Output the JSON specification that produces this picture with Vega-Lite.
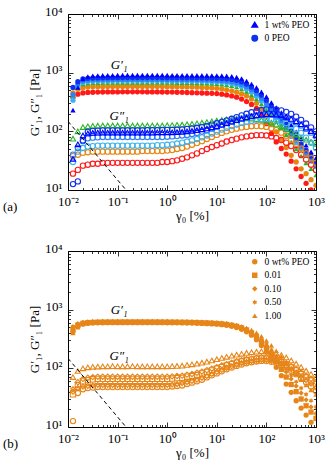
{
"$schema":"https://vega.github.io/schema/vega-lite/v6.json",
"padding":{"left":2,"top":4,"right":0,"bottom":0},
"config":{"font":"Liberation Serif","view":{"stroke":"black","strokeWidth":1},
"axis":{"domain":false,"grid":false,"labelFont":"Liberation Serif","labelFontSize":13,"labelColor":"black","titleFont":"Liberation Serif","titleFontSize":13,"titleFontWeight":"normal","titleColor":"black","tickColor":"black","tickWidth":0.8},
"legend":{"labelFont":"Liberation Serif","labelFontSize":9.5,"labelColor":"black","symbolSize":30,"rowPadding":1.5,"padding":2,"offset":4,"labelOffset":5}},
"datasets":{
"dash":[{"x":0.01,"y":148},{"x":0.148,"y":10}],
"la":[{"x":0.107,"y":1350,"t":"G′₁"},{"x":0.107,"y":182,"t":"G″₁"}],
"lb":[{"x":0.107,"y":980,"t":"G′₁"},{"x":0.107,"y":162,"t":"G″₁"}],
"a1":[
{"s":"r","x":0.0126,"y":380},{"s":"r","x":0.0158,"y":430},{"s":"r","x":0.02,"y":452},{"s":"r","x":0.0251,"y":460},{"s":"r","x":0.0316,"y":464},{"s":"r","x":0.0398,"y":466},{"s":"r","x":0.0501,"y":468},{"s":"r","x":0.0631,"y":469},{"s":"r","x":0.0794,"y":470},{"s":"r","x":0.1,"y":470},
{"s":"r","x":0.126,"y":471},{"s":"r","x":0.158,"y":471},{"s":"r","x":0.2,"y":471},{"s":"r","x":0.251,"y":471},{"s":"r","x":0.316,"y":471},{"s":"r","x":0.398,"y":470},{"s":"r","x":0.501,"y":470},{"s":"r","x":0.631,"y":469},{"s":"r","x":0.794,"y":468},{"s":"r","x":1,"y":467},
{"s":"r","x":1.26,"y":466},{"s":"r","x":1.58,"y":464},{"s":"r","x":2,"y":462},{"s":"r","x":2.51,"y":459},{"s":"r","x":3.16,"y":456},{"s":"r","x":3.98,"y":453},{"s":"r","x":5.01,"y":450},{"s":"r","x":6.31,"y":447},{"s":"r","x":7.94,"y":444},{"s":"r","x":10,"y":440},
{"s":"r","x":12.6,"y":430},{"s":"r","x":15.8,"y":418},{"s":"r","x":20,"y":402},{"s":"r","x":25.1,"y":382},{"s":"r","x":31.6,"y":355},{"s":"r","x":39.8,"y":322},{"s":"r","x":50.1,"y":288},{"s":"r","x":63.1,"y":245},{"s":"r","x":79.4,"y":190},{"s":"r","x":100,"y":135},
{"s":"r","x":126,"y":92},{"s":"r","x":158,"y":66},{"s":"r","x":200,"y":51},{"s":"r","x":251,"y":41},{"s":"r","x":316,"y":31},{"s":"r","x":398,"y":23},{"s":"r","x":501,"y":17},{"s":"r","x":631,"y":13},{"s":"r","x":794,"y":10},{"s":"r","x":1000,"y":8},
{"s":"o","x":0.0126,"y":450},{"s":"o","x":0.0158,"y":520},{"s":"o","x":0.02,"y":555},{"s":"o","x":0.0251,"y":568},{"s":"o","x":0.0316,"y":574},{"s":"o","x":0.0398,"y":577},{"s":"o","x":0.0501,"y":578},{"s":"o","x":0.0631,"y":580},{"s":"o","x":0.0794,"y":580},{"s":"o","x":0.1,"y":581},
{"s":"o","x":0.126,"y":582},{"s":"o","x":0.158,"y":582},{"s":"o","x":0.2,"y":582},{"s":"o","x":0.251,"y":582},{"s":"o","x":0.316,"y":582},{"s":"o","x":0.398,"y":581},{"s":"o","x":0.501,"y":580},{"s":"o","x":0.631,"y":580},{"s":"o","x":0.794,"y":579},{"s":"o","x":1,"y":578},
{"s":"o","x":1.26,"y":577},{"s":"o","x":1.58,"y":575},{"s":"o","x":2,"y":573},{"s":"o","x":2.51,"y":571},{"s":"o","x":3.16,"y":568},{"s":"o","x":3.98,"y":565},{"s":"o","x":5.01,"y":561},{"s":"o","x":6.31,"y":556},{"s":"o","x":7.94,"y":549},{"s":"o","x":10,"y":540},
{"s":"o","x":12.6,"y":528},{"s":"o","x":15.8,"y":511},{"s":"o","x":20,"y":490},{"s":"o","x":25.1,"y":465},{"s":"o","x":31.6,"y":435},{"s":"o","x":39.8,"y":400},{"s":"o","x":50.1,"y":355},{"s":"o","x":63.1,"y":300},{"s":"o","x":79.4,"y":240},{"s":"o","x":100,"y":180},
{"s":"o","x":126,"y":130},{"s":"o","x":158,"y":98},{"s":"o","x":200,"y":72},{"s":"o","x":251,"y":53},{"s":"o","x":316,"y":39},{"s":"o","x":398,"y":30},{"s":"o","x":501,"y":23},{"s":"o","x":631,"y":19},{"s":"o","x":794,"y":15},{"s":"o","x":1000,"y":12},
{"s":"g","x":0.0126,"y":400},{"s":"g","x":0.0158,"y":560},{"s":"g","x":0.02,"y":640},{"s":"g","x":0.0251,"y":662},{"s":"g","x":0.0316,"y":672},{"s":"g","x":0.0398,"y":676},{"s":"g","x":0.0501,"y":678},{"s":"g","x":0.0631,"y":680},{"s":"g","x":0.0794,"y":680},{"s":"g","x":0.1,"y":682},
{"s":"g","x":0.126,"y":682},{"s":"g","x":0.158,"y":683},{"s":"g","x":0.2,"y":683},{"s":"g","x":0.251,"y":683},{"s":"g","x":0.316,"y":683},{"s":"g","x":0.398,"y":682},{"s":"g","x":0.501,"y":682},{"s":"g","x":0.631,"y":681},{"s":"g","x":0.794,"y":680},{"s":"g","x":1,"y":679},
{"s":"g","x":1.26,"y":678},{"s":"g","x":1.58,"y":677},{"s":"g","x":2,"y":675},{"s":"g","x":2.51,"y":673},{"s":"g","x":3.16,"y":671},{"s":"g","x":3.98,"y":668},{"s":"g","x":5.01,"y":665},{"s":"g","x":6.31,"y":661},{"s":"g","x":7.94,"y":655},{"s":"g","x":10,"y":647},
{"s":"g","x":12.6,"y":636},{"s":"g","x":15.8,"y":620},{"s":"g","x":20,"y":598},{"s":"g","x":25.1,"y":568},{"s":"g","x":31.6,"y":528},{"s":"g","x":39.8,"y":478},{"s":"g","x":50.1,"y":418},{"s":"g","x":63.1,"y":355},{"s":"g","x":79.4,"y":292},{"s":"g","x":100,"y":236},
{"s":"g","x":126,"y":188},{"s":"g","x":158,"y":148},{"s":"g","x":200,"y":115},{"s":"g","x":251,"y":88},{"s":"g","x":316,"y":66},{"s":"g","x":398,"y":50},{"s":"g","x":501,"y":38},{"s":"g","x":631,"y":29},{"s":"g","x":794,"y":23},{"s":"g","x":1000,"y":18},
{"s":"c","x":0.0126,"y":340},{"s":"c","x":0.0158,"y":600},{"s":"c","x":0.02,"y":680},{"s":"c","x":0.0251,"y":705},{"s":"c","x":0.0316,"y":715},{"s":"c","x":0.0398,"y":720},{"s":"c","x":0.0501,"y":722},{"s":"c","x":0.0631,"y":724},{"s":"c","x":0.0794,"y":725},{"s":"c","x":0.1,"y":726},
{"s":"c","x":0.126,"y":727},{"s":"c","x":0.158,"y":728},{"s":"c","x":0.2,"y":728},{"s":"c","x":0.251,"y":728},{"s":"c","x":0.316,"y":728},{"s":"c","x":0.398,"y":727},{"s":"c","x":0.501,"y":726},{"s":"c","x":0.631,"y":726},{"s":"c","x":0.794,"y":725},{"s":"c","x":1,"y":724},
{"s":"c","x":1.26,"y":723},{"s":"c","x":1.58,"y":722},{"s":"c","x":2,"y":720},{"s":"c","x":2.51,"y":718},{"s":"c","x":3.16,"y":716},{"s":"c","x":3.98,"y":714},{"s":"c","x":5.01,"y":711},{"s":"c","x":6.31,"y":707},{"s":"c","x":7.94,"y":702},{"s":"c","x":10,"y":695},
{"s":"c","x":12.6,"y":685},{"s":"c","x":15.8,"y":670},{"s":"c","x":20,"y":650},{"s":"c","x":25.1,"y":620},{"s":"c","x":31.6,"y":580},{"s":"c","x":39.8,"y":528},{"s":"c","x":50.1,"y":465},{"s":"c","x":63.1,"y":398},{"s":"c","x":79.4,"y":330},{"s":"c","x":100,"y":268},
{"s":"c","x":126,"y":214},{"s":"c","x":158,"y":170},{"s":"c","x":200,"y":134},{"s":"c","x":251,"y":105},{"s":"c","x":316,"y":82},{"s":"c","x":398,"y":64},{"s":"c","x":501,"y":50},{"s":"c","x":631,"y":39},{"s":"c","x":794,"y":31},{"s":"c","x":1000,"y":25},
{"s":"k","x":0.0126,"y":420},{"s":"k","x":0.0158,"y":640},{"s":"k","x":0.02,"y":720},{"s":"k","x":0.0251,"y":745},{"s":"k","x":0.0316,"y":755},{"s":"k","x":0.0398,"y":760},{"s":"k","x":0.0501,"y":762},{"s":"k","x":0.0631,"y":764},{"s":"k","x":0.0794,"y":765},{"s":"k","x":0.1,"y":766},
{"s":"k","x":0.126,"y":767},{"s":"k","x":0.158,"y":768},{"s":"k","x":0.2,"y":768},{"s":"k","x":0.251,"y":768},{"s":"k","x":0.316,"y":768},{"s":"k","x":0.398,"y":768},{"s":"k","x":0.501,"y":767},{"s":"k","x":0.631,"y":766},{"s":"k","x":0.794,"y":765},{"s":"k","x":1,"y":764},
{"s":"k","x":1.26,"y":763},{"s":"k","x":1.58,"y":762},{"s":"k","x":2,"y":760},{"s":"k","x":2.51,"y":758},{"s":"k","x":3.16,"y":756},{"s":"k","x":3.98,"y":754},{"s":"k","x":5.01,"y":752},{"s":"k","x":6.31,"y":748},{"s":"k","x":7.94,"y":744},{"s":"k","x":10,"y":738},
{"s":"k","x":12.6,"y":730},{"s":"k","x":15.8,"y":718},{"s":"k","x":20,"y":700},{"s":"k","x":25.1,"y":672},{"s":"k","x":31.6,"y":632},{"s":"k","x":39.8,"y":578},{"s":"k","x":50.1,"y":512},{"s":"k","x":63.1,"y":440},{"s":"k","x":79.4,"y":368},{"s":"k","x":100,"y":300},
{"s":"k","x":126,"y":240},{"s":"k","x":158,"y":190},{"s":"k","x":200,"y":150},{"s":"k","x":251,"y":117},{"s":"k","x":316,"y":91},{"s":"k","x":398,"y":71},{"s":"k","x":501,"y":55},{"s":"k","x":631,"y":43},{"s":"k","x":794,"y":34},{"s":"k","x":1000,"y":27},
{"s":"B","x":0.0126,"y":560},{"s":"B","x":0.0158,"y":700},{"s":"B","x":0.02,"y":780},{"s":"B","x":0.0251,"y":800},{"s":"B","x":0.0316,"y":810},{"s":"B","x":0.0398,"y":815},{"s":"B","x":0.0501,"y":818},{"s":"B","x":0.0631,"y":820},{"s":"B","x":0.0794,"y":822},{"s":"B","x":0.1,"y":822},
{"s":"B","x":0.126,"y":824},{"s":"B","x":0.158,"y":824},{"s":"B","x":0.2,"y":824},{"s":"B","x":0.251,"y":825},{"s":"B","x":0.316,"y":825},{"s":"B","x":0.398,"y":825},{"s":"B","x":0.501,"y":824},{"s":"B","x":0.631,"y":824},{"s":"B","x":0.794,"y":823},{"s":"B","x":1,"y":822},
{"s":"B","x":1.26,"y":821},{"s":"B","x":1.58,"y":820},{"s":"B","x":2,"y":818},{"s":"B","x":2.51,"y":817},{"s":"B","x":3.16,"y":815},{"s":"B","x":3.98,"y":814},{"s":"B","x":5.01,"y":812},{"s":"B","x":6.31,"y":810},{"s":"B","x":7.94,"y":807},{"s":"B","x":10,"y":803},
{"s":"B","x":12.6,"y":796},{"s":"B","x":15.8,"y":785},{"s":"B","x":20,"y":768},{"s":"B","x":25.1,"y":740},{"s":"B","x":31.6,"y":700},{"s":"B","x":39.8,"y":640},{"s":"B","x":50.1,"y":570},{"s":"B","x":63.1,"y":495},{"s":"B","x":79.4,"y":415},{"s":"B","x":100,"y":340},
{"s":"B","x":126,"y":272},{"s":"B","x":158,"y":215},{"s":"B","x":200,"y":170},{"s":"B","x":251,"y":132},{"s":"B","x":316,"y":102},{"s":"B","x":398,"y":79},{"s":"B","x":501,"y":61},{"s":"B","x":631,"y":48},{"s":"B","x":794,"y":38},{"s":"B","x":1000,"y":30},
{"s":"b","x":0.0126,"y":230},{"s":"b","x":0.0158,"y":560},{"s":"b","x":0.02,"y":790},{"s":"b","x":0.0251,"y":860},{"s":"b","x":0.0316,"y":885},{"s":"b","x":0.0398,"y":895},{"s":"b","x":0.0501,"y":900},{"s":"b","x":0.0631,"y":905},{"s":"b","x":0.0794,"y":905},{"s":"b","x":0.1,"y":908},
{"s":"b","x":0.126,"y":910},{"s":"b","x":0.158,"y":910},{"s":"b","x":0.2,"y":910},{"s":"b","x":0.251,"y":912},{"s":"b","x":0.316,"y":912},{"s":"b","x":0.398,"y":912},{"s":"b","x":0.501,"y":910},{"s":"b","x":0.631,"y":910},{"s":"b","x":0.794,"y":910},{"s":"b","x":1,"y":908},
{"s":"b","x":1.26,"y":906},{"s":"b","x":1.58,"y":905},{"s":"b","x":2,"y":903},{"s":"b","x":2.51,"y":902},{"s":"b","x":3.16,"y":900},{"s":"b","x":3.98,"y":900},{"s":"b","x":5.01,"y":898},{"s":"b","x":6.31,"y":898},{"s":"b","x":7.94,"y":896},{"s":"b","x":10,"y":895},
{"s":"b","x":12.6,"y":890},{"s":"b","x":15.8,"y":882},{"s":"b","x":20,"y":868},{"s":"b","x":25.1,"y":840},{"s":"b","x":31.6,"y":795},{"s":"b","x":39.8,"y":720},{"s":"b","x":50.1,"y":640},{"s":"b","x":63.1,"y":560},{"s":"b","x":79.4,"y":470},{"s":"b","x":100,"y":390},
{"s":"b","x":126,"y":310},{"s":"b","x":158,"y":255},{"s":"b","x":200,"y":210},{"s":"b","x":251,"y":165},{"s":"b","x":316,"y":128},{"s":"b","x":398,"y":98},{"s":"b","x":501,"y":75},{"s":"b","x":631,"y":58},{"s":"b","x":794,"y":45},{"s":"b","x":1000,"y":35}
],
"a2":[
{"s":"r","x":0.0126,"y":19},{"s":"r","x":0.0158,"y":22},{"s":"r","x":0.02,"y":26},{"s":"r","x":0.0251,"y":27},{"s":"r","x":0.0316,"y":28},{"s":"r","x":0.0398,"y":28},{"s":"r","x":0.0501,"y":29},{"s":"r","x":0.0631,"y":29},{"s":"r","x":0.0794,"y":29},{"s":"r","x":0.1,"y":29},
{"s":"r","x":0.126,"y":29},{"s":"r","x":0.158,"y":29},{"s":"r","x":0.2,"y":29},{"s":"r","x":0.251,"y":29},{"s":"r","x":0.316,"y":29},{"s":"r","x":0.398,"y":29},{"s":"r","x":0.501,"y":29},{"s":"r","x":0.631,"y":29},{"s":"r","x":0.794,"y":30},{"s":"r","x":1,"y":30},
{"s":"r","x":1.26,"y":31},{"s":"r","x":1.58,"y":32},{"s":"r","x":2,"y":34},{"s":"r","x":2.51,"y":36},{"s":"r","x":3.16,"y":39},{"s":"r","x":3.98,"y":42},{"s":"r","x":5.01,"y":46},{"s":"r","x":6.31,"y":50},{"s":"r","x":7.94,"y":54},{"s":"r","x":10,"y":58},
{"s":"r","x":12.6,"y":62},{"s":"r","x":15.8,"y":67},{"s":"r","x":20,"y":71},{"s":"r","x":25.1,"y":75},{"s":"r","x":31.6,"y":79},{"s":"r","x":39.8,"y":82},{"s":"r","x":50.1,"y":84},{"s":"r","x":63.1,"y":86},{"s":"r","x":79.4,"y":86},{"s":"r","x":100,"y":85},
{"s":"r","x":126,"y":82},{"s":"r","x":158,"y":77},{"s":"r","x":200,"y":71},{"s":"r","x":251,"y":64},{"s":"r","x":316,"y":56},{"s":"r","x":398,"y":48},{"s":"r","x":501,"y":40},{"s":"r","x":631,"y":33},{"s":"r","x":794,"y":27},{"s":"r","x":1000,"y":22},
{"s":"o","x":0.0126,"y":38},{"s":"o","x":0.0158,"y":40},{"s":"o","x":0.02,"y":43},{"s":"o","x":0.0251,"y":44},{"s":"o","x":0.0316,"y":45},{"s":"o","x":0.0398,"y":45},{"s":"o","x":0.0501,"y":45},{"s":"o","x":0.0631,"y":45},{"s":"o","x":0.0794,"y":45},{"s":"o","x":0.1,"y":45},
{"s":"o","x":0.126,"y":45},{"s":"o","x":0.158,"y":45},{"s":"o","x":0.2,"y":45},{"s":"o","x":0.251,"y":45},{"s":"o","x":0.316,"y":46},{"s":"o","x":0.398,"y":46},{"s":"o","x":0.501,"y":46},{"s":"o","x":0.631,"y":46},{"s":"o","x":0.794,"y":46},{"s":"o","x":1,"y":47},
{"s":"o","x":1.26,"y":48},{"s":"o","x":1.58,"y":50},{"s":"o","x":2,"y":52},{"s":"o","x":2.51,"y":55},{"s":"o","x":3.16,"y":59},{"s":"o","x":3.98,"y":63},{"s":"o","x":5.01,"y":68},{"s":"o","x":6.31,"y":74},{"s":"o","x":7.94,"y":80},{"s":"o","x":10,"y":87},
{"s":"o","x":12.6,"y":94},{"s":"o","x":15.8,"y":100},{"s":"o","x":20,"y":106},{"s":"o","x":25.1,"y":111},{"s":"o","x":31.6,"y":116},{"s":"o","x":39.8,"y":119},{"s":"o","x":50.1,"y":122},{"s":"o","x":63.1,"y":123},{"s":"o","x":79.4,"y":122},{"s":"o","x":100,"y":119},
{"s":"o","x":126,"y":113},{"s":"o","x":158,"y":105},{"s":"o","x":200,"y":95},{"s":"o","x":251,"y":84},{"s":"o","x":316,"y":72},{"s":"o","x":398,"y":61},{"s":"o","x":501,"y":51},{"s":"o","x":631,"y":42},{"s":"o","x":794,"y":35},{"s":"o","x":1000,"y":29},
{"s":"g","x":0.0126,"y":75},{"s":"g","x":0.0158,"y":100},{"s":"g","x":0.02,"y":118},{"s":"g","x":0.0251,"y":122},{"s":"g","x":0.0316,"y":124},{"s":"g","x":0.0398,"y":125},{"s":"g","x":0.0501,"y":126},{"s":"g","x":0.0631,"y":126},{"s":"g","x":0.0794,"y":126},{"s":"g","x":0.1,"y":126},
{"s":"g","x":0.126,"y":126},{"s":"g","x":0.158,"y":126},{"s":"g","x":0.2,"y":126},{"s":"g","x":0.251,"y":126},{"s":"g","x":0.316,"y":126},{"s":"g","x":0.398,"y":126},{"s":"g","x":0.501,"y":126},{"s":"g","x":0.631,"y":126},{"s":"g","x":0.794,"y":126},{"s":"g","x":1,"y":127},
{"s":"g","x":1.26,"y":128},{"s":"g","x":1.58,"y":129},{"s":"g","x":2,"y":130},{"s":"g","x":2.51,"y":132},{"s":"g","x":3.16,"y":134},{"s":"g","x":3.98,"y":137},{"s":"g","x":5.01,"y":140},{"s":"g","x":6.31,"y":144},{"s":"g","x":7.94,"y":148},{"s":"g","x":10,"y":152},
{"s":"g","x":12.6,"y":156},{"s":"g","x":15.8,"y":160},{"s":"g","x":20,"y":163},{"s":"g","x":25.1,"y":165},{"s":"g","x":31.6,"y":166},{"s":"g","x":39.8,"y":166},{"s":"g","x":50.1,"y":165},{"s":"g","x":63.1,"y":162},{"s":"g","x":79.4,"y":157},{"s":"g","x":100,"y":150},
{"s":"g","x":126,"y":141},{"s":"g","x":158,"y":131},{"s":"g","x":200,"y":120},{"s":"g","x":251,"y":109},{"s":"g","x":316,"y":98},{"s":"g","x":398,"y":88},{"s":"g","x":501,"y":79},{"s":"g","x":631,"y":72},{"s":"g","x":794,"y":66},{"s":"g","x":1000,"y":61},
{"s":"c","x":0.0126,"y":30},{"s":"c","x":0.0158,"y":45},{"s":"c","x":0.02,"y":52},{"s":"c","x":0.0251,"y":55},{"s":"c","x":0.0316,"y":56},{"s":"c","x":0.0398,"y":57},{"s":"c","x":0.0501,"y":57},{"s":"c","x":0.0631,"y":57},{"s":"c","x":0.0794,"y":57},{"s":"c","x":0.1,"y":57},
{"s":"c","x":0.126,"y":57},{"s":"c","x":0.158,"y":57},{"s":"c","x":0.2,"y":57},{"s":"c","x":0.251,"y":57},{"s":"c","x":0.316,"y":57},{"s":"c","x":0.398,"y":57},{"s":"c","x":0.501,"y":57},{"s":"c","x":0.631,"y":58},{"s":"c","x":0.794,"y":58},{"s":"c","x":1,"y":59},
{"s":"c","x":1.26,"y":60},{"s":"c","x":1.58,"y":62},{"s":"c","x":2,"y":64},{"s":"c","x":2.51,"y":67},{"s":"c","x":3.16,"y":70},{"s":"c","x":3.98,"y":74},{"s":"c","x":5.01,"y":79},{"s":"c","x":6.31,"y":85},{"s":"c","x":7.94,"y":92},{"s":"c","x":10,"y":99},
{"s":"c","x":12.6,"y":107},{"s":"c","x":15.8,"y":115},{"s":"c","x":20,"y":123},{"s":"c","x":25.1,"y":131},{"s":"c","x":31.6,"y":139},{"s":"c","x":39.8,"y":146},{"s":"c","x":50.1,"y":152},{"s":"c","x":63.1,"y":157},{"s":"c","x":79.4,"y":160},{"s":"c","x":100,"y":161},
{"s":"c","x":126,"y":160},{"s":"c","x":158,"y":156},{"s":"c","x":200,"y":149},{"s":"c","x":251,"y":138},{"s":"c","x":316,"y":125},{"s":"c","x":398,"y":110},{"s":"c","x":501,"y":94},{"s":"c","x":631,"y":78},{"s":"c","x":794,"y":64},{"s":"c","x":1000,"y":52},
{"s":"k","x":0.0126,"y":40},{"s":"k","x":0.0158,"y":52},{"s":"k","x":0.02,"y":68},{"s":"k","x":0.0251,"y":76},{"s":"k","x":0.0316,"y":78},{"s":"k","x":0.0398,"y":79},{"s":"k","x":0.0501,"y":80},{"s":"k","x":0.0631,"y":80},{"s":"k","x":0.0794,"y":80},{"s":"k","x":0.1,"y":80},
{"s":"k","x":0.126,"y":80},{"s":"k","x":0.158,"y":80},{"s":"k","x":0.2,"y":80},{"s":"k","x":0.251,"y":80},{"s":"k","x":0.316,"y":80},{"s":"k","x":0.398,"y":80},{"s":"k","x":0.501,"y":80},{"s":"k","x":0.631,"y":80},{"s":"k","x":0.794,"y":80},{"s":"k","x":1,"y":81},
{"s":"k","x":1.26,"y":82},{"s":"k","x":1.58,"y":83},{"s":"k","x":2,"y":85},{"s":"k","x":2.51,"y":87},{"s":"k","x":3.16,"y":90},{"s":"k","x":3.98,"y":94},{"s":"k","x":5.01,"y":99},{"s":"k","x":6.31,"y":105},{"s":"k","x":7.94,"y":112},{"s":"k","x":10,"y":120},
{"s":"k","x":12.6,"y":129},{"s":"k","x":15.8,"y":138},{"s":"k","x":20,"y":147},{"s":"k","x":25.1,"y":156},{"s":"k","x":31.6,"y":165},{"s":"k","x":39.8,"y":173},{"s":"k","x":50.1,"y":180},{"s":"k","x":63.1,"y":186},{"s":"k","x":79.4,"y":190},{"s":"k","x":100,"y":192},
{"s":"k","x":126,"y":191},{"s":"k","x":158,"y":187},{"s":"k","x":200,"y":180},{"s":"k","x":251,"y":170},{"s":"k","x":316,"y":157},{"s":"k","x":398,"y":142},{"s":"k","x":501,"y":126},{"s":"k","x":631,"y":110},{"s":"k","x":794,"y":95},{"s":"k","x":1000,"y":82},
{"s":"B","x":0.0126,"y":12.6},{"s":"B","x":0.0158,"y":14},{"s":"B","x":0.02,"y":70},{"s":"B","x":0.0251,"y":98},{"s":"B","x":0.0316,"y":102},{"s":"B","x":0.0398,"y":103},{"s":"B","x":0.0501,"y":104},{"s":"B","x":0.0631,"y":104},{"s":"B","x":0.0794,"y":104},{"s":"B","x":0.1,"y":104},
{"s":"B","x":0.126,"y":104},{"s":"B","x":0.158,"y":104},{"s":"B","x":0.2,"y":104},{"s":"B","x":0.251,"y":104},{"s":"B","x":0.316,"y":104},{"s":"B","x":0.398,"y":105},{"s":"B","x":0.501,"y":105},{"s":"B","x":0.631,"y":105},{"s":"B","x":0.794,"y":106},{"s":"B","x":1,"y":106},
{"s":"B","x":1.26,"y":106},{"s":"B","x":1.58,"y":107},{"s":"B","x":2,"y":108},{"s":"B","x":2.51,"y":110},{"s":"B","x":3.16,"y":112},{"s":"B","x":3.98,"y":115},{"s":"B","x":5.01,"y":119},{"s":"B","x":6.31,"y":124},{"s":"B","x":7.94,"y":130},{"s":"B","x":10,"y":137},
{"s":"B","x":12.6,"y":145},{"s":"B","x":15.8,"y":154},{"s":"B","x":20,"y":164},{"s":"B","x":25.1,"y":175},{"s":"B","x":31.6,"y":187},{"s":"B","x":39.8,"y":199},{"s":"B","x":50.1,"y":211},{"s":"B","x":63.1,"y":222},{"s":"B","x":79.4,"y":231},{"s":"B","x":100,"y":237},
{"s":"B","x":126,"y":239},{"s":"B","x":158,"y":236},{"s":"B","x":200,"y":228},{"s":"B","x":251,"y":215},{"s":"B","x":316,"y":198},{"s":"B","x":398,"y":178},{"s":"B","x":501,"y":157},{"s":"B","x":631,"y":136},{"s":"B","x":794,"y":117},{"s":"B","x":1000,"y":100},
{"s":"b","x":0.0126,"y":34},{"s":"b","x":0.0158,"y":60},{"s":"b","x":0.02,"y":85},{"s":"b","x":0.0251,"y":92},{"s":"b","x":0.0316,"y":94},{"s":"b","x":0.0398,"y":95},{"s":"b","x":0.0501,"y":95},{"s":"b","x":0.0631,"y":95},{"s":"b","x":0.0794,"y":95},{"s":"b","x":0.1,"y":95},
{"s":"b","x":0.126,"y":95},{"s":"b","x":0.158,"y":95},{"s":"b","x":0.2,"y":95},{"s":"b","x":0.251,"y":95},{"s":"b","x":0.316,"y":95},{"s":"b","x":0.398,"y":95},{"s":"b","x":0.501,"y":95},{"s":"b","x":0.631,"y":96},{"s":"b","x":0.794,"y":96},{"s":"b","x":1,"y":96},
{"s":"b","x":1.26,"y":96},{"s":"b","x":1.58,"y":97},{"s":"b","x":2,"y":98},{"s":"b","x":2.51,"y":100},{"s":"b","x":3.16,"y":102},{"s":"b","x":3.98,"y":105},{"s":"b","x":5.01,"y":108},{"s":"b","x":6.31,"y":112},{"s":"b","x":7.94,"y":117},{"s":"b","x":10,"y":123},
{"s":"b","x":12.6,"y":130},{"s":"b","x":15.8,"y":138},{"s":"b","x":20,"y":146},{"s":"b","x":25.1,"y":155},{"s":"b","x":31.6,"y":164},{"s":"b","x":39.8,"y":173},{"s":"b","x":50.1,"y":181},{"s":"b","x":63.1,"y":188},{"s":"b","x":79.4,"y":193},{"s":"b","x":100,"y":196},
{"s":"b","x":126,"y":196},{"s":"b","x":158,"y":193},{"s":"b","x":200,"y":186},{"s":"b","x":251,"y":176},{"s":"b","x":316,"y":163},{"s":"b","x":398,"y":148},{"s":"b","x":501,"y":132},{"s":"b","x":631,"y":116},{"s":"b","x":794,"y":101},{"s":"b","x":1000,"y":87}
],
"b1":[
{"s":"0","x":0.0126,"y":420},{"s":"0","x":0.0158,"y":520},{"s":"0","x":0.02,"y":570},{"s":"0","x":0.0251,"y":585},{"s":"0","x":0.0316,"y":592},{"s":"0","x":0.0398,"y":596},{"s":"0","x":0.0501,"y":598},{"s":"0","x":0.0631,"y":599},{"s":"0","x":0.0794,"y":600},{"s":"0","x":0.1,"y":600},
{"s":"0","x":0.126,"y":601},{"s":"0","x":0.158,"y":601},{"s":"0","x":0.2,"y":601},{"s":"0","x":0.251,"y":601},{"s":"0","x":0.316,"y":601},{"s":"0","x":0.398,"y":600},{"s":"0","x":0.501,"y":600},{"s":"0","x":0.631,"y":600},{"s":"0","x":0.794,"y":599},{"s":"0","x":1,"y":598},
{"s":"0","x":1.26,"y":597},{"s":"0","x":1.58,"y":596},{"s":"0","x":2,"y":594},{"s":"0","x":2.51,"y":592},{"s":"0","x":3.16,"y":590},{"s":"0","x":3.98,"y":587},{"s":"0","x":5.01,"y":583},{"s":"0","x":6.31,"y":578},{"s":"0","x":7.94,"y":572},{"s":"0","x":10,"y":565},
{"s":"0","x":12.6,"y":555},{"s":"0","x":15.8,"y":541},{"s":"0","x":20,"y":522},{"s":"0","x":25.1,"y":497},{"s":"0","x":31.6,"y":463},{"s":"0","x":39.8,"y":420},{"s":"0","x":50.1,"y":368},{"s":"0","x":63.1,"y":308},{"s":"0","x":79.4,"y":246},{"s":"0","x":100,"y":190},
{"s":"0","x":126,"y":142},{"s":"0","x":158,"y":104},{"s":"0","x":200,"y":75},{"s":"0","x":251,"y":54},{"s":"0","x":316,"y":39},{"s":"0","x":398,"y":28},{"s":"0","x":501,"y":21},{"s":"0","x":631,"y":16},{"s":"0","x":794,"y":12},{"s":"0","x":1000,"y":9},
{"s":"1","x":0.0126,"y":460},{"s":"1","x":0.0158,"y":545},{"s":"1","x":0.02,"y":585},{"s":"1","x":0.0251,"y":600},{"s":"1","x":0.0316,"y":607},{"s":"1","x":0.0398,"y":611},{"s":"1","x":0.0501,"y":613},{"s":"1","x":0.0631,"y":614},{"s":"1","x":0.0794,"y":615},{"s":"1","x":0.1,"y":615},
{"s":"1","x":0.126,"y":616},{"s":"1","x":0.158,"y":616},{"s":"1","x":0.2,"y":616},{"s":"1","x":0.251,"y":616},{"s":"1","x":0.316,"y":616},{"s":"1","x":0.398,"y":615},{"s":"1","x":0.501,"y":615},{"s":"1","x":0.631,"y":615},{"s":"1","x":0.794,"y":614},{"s":"1","x":1,"y":613},
{"s":"1","x":1.26,"y":612},{"s":"1","x":1.58,"y":611},{"s":"1","x":2,"y":609},{"s":"1","x":2.51,"y":607},{"s":"1","x":3.16,"y":605},{"s":"1","x":3.98,"y":602},{"s":"1","x":5.01,"y":598},{"s":"1","x":6.31,"y":594},{"s":"1","x":7.94,"y":588},{"s":"1","x":10,"y":581},
{"s":"1","x":12.6,"y":572},{"s":"1","x":15.8,"y":559},{"s":"1","x":20,"y":542},{"s":"1","x":25.1,"y":519},{"s":"1","x":31.6,"y":488},{"s":"1","x":39.8,"y":448},{"s":"1","x":50.1,"y":398},{"s":"1","x":63.1,"y":341},{"s":"1","x":79.4,"y":280},{"s":"1","x":100,"y":222},
{"s":"1","x":126,"y":171},{"s":"1","x":158,"y":129},{"s":"1","x":200,"y":96},{"s":"1","x":251,"y":71},{"s":"1","x":316,"y":53},{"s":"1","x":398,"y":40},{"s":"1","x":501,"y":30},{"s":"1","x":631,"y":23},{"s":"1","x":794,"y":18},{"s":"1","x":1000,"y":14},
{"s":"2","x":0.0126,"y":500},{"s":"2","x":0.0158,"y":570},{"s":"2","x":0.02,"y":605},{"s":"2","x":0.0251,"y":617},{"s":"2","x":0.0316,"y":623},{"s":"2","x":0.0398,"y":626},{"s":"2","x":0.0501,"y":628},{"s":"2","x":0.0631,"y":629},{"s":"2","x":0.0794,"y":630},{"s":"2","x":0.1,"y":630},
{"s":"2","x":0.126,"y":631},{"s":"2","x":0.158,"y":631},{"s":"2","x":0.2,"y":631},{"s":"2","x":0.251,"y":631},{"s":"2","x":0.316,"y":631},{"s":"2","x":0.398,"y":630},{"s":"2","x":0.501,"y":630},{"s":"2","x":0.631,"y":630},{"s":"2","x":0.794,"y":629},{"s":"2","x":1,"y":628},
{"s":"2","x":1.26,"y":627},{"s":"2","x":1.58,"y":626},{"s":"2","x":2,"y":624},{"s":"2","x":2.51,"y":622},{"s":"2","x":3.16,"y":620},{"s":"2","x":3.98,"y":617},{"s":"2","x":5.01,"y":613},{"s":"2","x":6.31,"y":609},{"s":"2","x":7.94,"y":603},{"s":"2","x":10,"y":596},
{"s":"2","x":12.6,"y":587},{"s":"2","x":15.8,"y":575},{"s":"2","x":20,"y":558},{"s":"2","x":25.1,"y":536},{"s":"2","x":31.6,"y":506},{"s":"2","x":39.8,"y":468},{"s":"2","x":50.1,"y":420},{"s":"2","x":63.1,"y":364},{"s":"2","x":79.4,"y":304},{"s":"2","x":100,"y":246},
{"s":"2","x":126,"y":194},{"s":"2","x":158,"y":150},{"s":"2","x":200,"y":115},{"s":"2","x":251,"y":87},{"s":"2","x":316,"y":66},{"s":"2","x":398,"y":50},{"s":"2","x":501,"y":38},{"s":"2","x":631,"y":29},{"s":"2","x":794,"y":22},{"s":"2","x":1000,"y":17},
{"s":"3","x":0.0126,"y":520},{"s":"3","x":0.0158,"y":575},{"s":"3","x":0.02,"y":602},{"s":"3","x":0.0251,"y":613},{"s":"3","x":0.0316,"y":618},{"s":"3","x":0.0398,"y":621},{"s":"3","x":0.0501,"y":623},{"s":"3","x":0.0631,"y":624},{"s":"3","x":0.0794,"y":625},{"s":"3","x":0.1,"y":625},
{"s":"3","x":0.126,"y":625},{"s":"3","x":0.158,"y":625},{"s":"3","x":0.2,"y":625},{"s":"3","x":0.251,"y":625},{"s":"3","x":0.316,"y":625},{"s":"3","x":0.398,"y":625},{"s":"3","x":0.501,"y":624},{"s":"3","x":0.631,"y":624},{"s":"3","x":0.794,"y":624},{"s":"3","x":1,"y":623},
{"s":"3","x":1.26,"y":622},{"s":"3","x":1.58,"y":621},{"s":"3","x":2,"y":619},{"s":"3","x":2.51,"y":617},{"s":"3","x":3.16,"y":615},{"s":"3","x":3.98,"y":612},{"s":"3","x":5.01,"y":608},{"s":"3","x":6.31,"y":604},{"s":"3","x":7.94,"y":599},{"s":"3","x":10,"y":592},
{"s":"3","x":12.6,"y":583},{"s":"3","x":15.8,"y":571},{"s":"3","x":20,"y":555},{"s":"3","x":25.1,"y":534},{"s":"3","x":31.6,"y":506},{"s":"3","x":39.8,"y":470},{"s":"3","x":50.1,"y":425},{"s":"3","x":63.1,"y":372},{"s":"3","x":79.4,"y":314},{"s":"3","x":100,"y":258},
{"s":"3","x":126,"y":207},{"s":"3","x":158,"y":163},{"s":"3","x":200,"y":127},{"s":"3","x":251,"y":98},{"s":"3","x":316,"y":76},{"s":"3","x":398,"y":59},{"s":"3","x":501,"y":46},{"s":"3","x":631,"y":36},{"s":"3","x":794,"y":28},{"s":"3","x":1000,"y":22},
{"s":"4","x":0.0126,"y":400},{"s":"4","x":0.0158,"y":500},{"s":"4","x":0.02,"y":570},{"s":"4","x":0.0251,"y":592},{"s":"4","x":0.0316,"y":600},{"s":"4","x":0.0398,"y":604},{"s":"4","x":0.0501,"y":606},{"s":"4","x":0.0631,"y":608},{"s":"4","x":0.0794,"y":609},{"s":"4","x":0.1,"y":610},
{"s":"4","x":0.126,"y":610},{"s":"4","x":0.158,"y":610},{"s":"4","x":0.2,"y":610},{"s":"4","x":0.251,"y":610},{"s":"4","x":0.316,"y":610},{"s":"4","x":0.398,"y":610},{"s":"4","x":0.501,"y":609},{"s":"4","x":0.631,"y":609},{"s":"4","x":0.794,"y":608},{"s":"4","x":1,"y":608},
{"s":"4","x":1.26,"y":607},{"s":"4","x":1.58,"y":606},{"s":"4","x":2,"y":605},{"s":"4","x":2.51,"y":603},{"s":"4","x":3.16,"y":601},{"s":"4","x":3.98,"y":599},{"s":"4","x":5.01,"y":596},{"s":"4","x":6.31,"y":593},{"s":"4","x":7.94,"y":589},{"s":"4","x":10,"y":584},
{"s":"4","x":12.6,"y":577},{"s":"4","x":15.8,"y":568},{"s":"4","x":20,"y":556},{"s":"4","x":25.1,"y":540},{"s":"4","x":31.6,"y":518},{"s":"4","x":39.8,"y":488},{"s":"4","x":50.1,"y":450},{"s":"4","x":63.1,"y":404},{"s":"4","x":79.4,"y":352},{"s":"4","x":100,"y":298},
{"s":"4","x":126,"y":246},{"s":"4","x":158,"y":200},{"s":"4","x":200,"y":160},{"s":"4","x":251,"y":127},{"s":"4","x":316,"y":100},{"s":"4","x":398,"y":80},{"s":"4","x":501,"y":64},{"s":"4","x":631,"y":52},{"s":"4","x":794,"y":43},{"s":"4","x":1000,"y":36}
],
"b2":[
{"s":"0","x":0.0126,"y":12.6},{"s":"0","x":0.0158,"y":38},{"s":"0","x":0.02,"y":44},{"s":"0","x":0.0251,"y":46},{"s":"0","x":0.0316,"y":47},{"s":"0","x":0.0398,"y":48},{"s":"0","x":0.0501,"y":48},{"s":"0","x":0.0631,"y":48},{"s":"0","x":0.0794,"y":48},{"s":"0","x":0.1,"y":48},
{"s":"0","x":0.126,"y":48},{"s":"0","x":0.158,"y":48},{"s":"0","x":0.2,"y":48},{"s":"0","x":0.251,"y":48},{"s":"0","x":0.316,"y":48},{"s":"0","x":0.398,"y":48},{"s":"0","x":0.501,"y":48},{"s":"0","x":0.631,"y":48},{"s":"0","x":0.794,"y":48},{"s":"0","x":1,"y":48},
{"s":"0","x":1.26,"y":49},{"s":"0","x":1.58,"y":50},{"s":"0","x":2,"y":51},{"s":"0","x":2.51,"y":54},{"s":"0","x":3.16,"y":57},{"s":"0","x":3.98,"y":60},{"s":"0","x":5.01,"y":64},{"s":"0","x":6.31,"y":70},{"s":"0","x":7.94,"y":76},{"s":"0","x":10,"y":82},
{"s":"0","x":12.6,"y":89},{"s":"0","x":15.8,"y":96},{"s":"0","x":20,"y":103},{"s":"0","x":25.1,"y":110},{"s":"0","x":31.6,"y":116},{"s":"0","x":39.8,"y":122},{"s":"0","x":50.1,"y":127},{"s":"0","x":63.1,"y":131},{"s":"0","x":79.4,"y":134},{"s":"0","x":100,"y":133},
{"s":"0","x":126,"y":129},{"s":"0","x":158,"y":123},{"s":"0","x":200,"y":114},{"s":"0","x":251,"y":103},{"s":"0","x":316,"y":91},{"s":"0","x":398,"y":79},{"s":"0","x":501,"y":68},{"s":"0","x":631,"y":58},{"s":"0","x":794,"y":49},{"s":"0","x":1000,"y":41},
{"s":"1","x":0.0126,"y":36},{"s":"1","x":0.0158,"y":52},{"s":"1","x":0.02,"y":60},{"s":"1","x":0.0251,"y":63},{"s":"1","x":0.0316,"y":65},{"s":"1","x":0.0398,"y":66},{"s":"1","x":0.0501,"y":66},{"s":"1","x":0.0631,"y":66},{"s":"1","x":0.0794,"y":66},{"s":"1","x":0.1,"y":66},
{"s":"1","x":0.126,"y":66},{"s":"1","x":0.158,"y":66},{"s":"1","x":0.2,"y":66},{"s":"1","x":0.251,"y":66},{"s":"1","x":0.316,"y":66},{"s":"1","x":0.398,"y":66},{"s":"1","x":0.501,"y":66},{"s":"1","x":0.631,"y":66},{"s":"1","x":0.794,"y":66},{"s":"1","x":1,"y":66},
{"s":"1","x":1.26,"y":67},{"s":"1","x":1.58,"y":68},{"s":"1","x":2,"y":69},{"s":"1","x":2.51,"y":72},{"s":"1","x":3.16,"y":74},{"s":"1","x":3.98,"y":77},{"s":"1","x":5.01,"y":82},{"s":"1","x":6.31,"y":87},{"s":"1","x":7.94,"y":92},{"s":"1","x":10,"y":99},
{"s":"1","x":12.6,"y":105},{"s":"1","x":15.8,"y":112},{"s":"1","x":20,"y":118},{"s":"1","x":25.1,"y":125},{"s":"1","x":31.6,"y":131},{"s":"1","x":39.8,"y":137},{"s":"1","x":50.1,"y":141},{"s":"1","x":63.1,"y":146},{"s":"1","x":79.4,"y":148},{"s":"1","x":100,"y":147},
{"s":"1","x":126,"y":143},{"s":"1","x":158,"y":137},{"s":"1","x":200,"y":127},{"s":"1","x":251,"y":116},{"s":"1","x":316,"y":104},{"s":"1","x":398,"y":92},{"s":"1","x":501,"y":80},{"s":"1","x":631,"y":70},{"s":"1","x":794,"y":62},{"s":"1","x":1000,"y":54},
{"s":"2","x":0.0126,"y":40},{"s":"2","x":0.0158,"y":58},{"s":"2","x":0.02,"y":66},{"s":"2","x":0.0251,"y":69},{"s":"2","x":0.0316,"y":71},{"s":"2","x":0.0398,"y":72},{"s":"2","x":0.0501,"y":72},{"s":"2","x":0.0631,"y":72},{"s":"2","x":0.0794,"y":72},{"s":"2","x":0.1,"y":72},
{"s":"2","x":0.126,"y":72},{"s":"2","x":0.158,"y":72},{"s":"2","x":0.2,"y":72},{"s":"2","x":0.251,"y":72},{"s":"2","x":0.316,"y":72},{"s":"2","x":0.398,"y":72},{"s":"2","x":0.501,"y":72},{"s":"2","x":0.631,"y":72},{"s":"2","x":0.794,"y":72},{"s":"2","x":1,"y":72},
{"s":"2","x":1.26,"y":73},{"s":"2","x":1.58,"y":74},{"s":"2","x":2,"y":75},{"s":"2","x":2.51,"y":78},{"s":"2","x":3.16,"y":80},{"s":"2","x":3.98,"y":84},{"s":"2","x":5.01,"y":88},{"s":"2","x":6.31,"y":93},{"s":"2","x":7.94,"y":99},{"s":"2","x":10,"y":105},
{"s":"2","x":12.6,"y":112},{"s":"2","x":15.8,"y":118},{"s":"2","x":20,"y":125},{"s":"2","x":25.1,"y":132},{"s":"2","x":31.6,"y":138},{"s":"2","x":39.8,"y":143},{"s":"2","x":50.1,"y":148},{"s":"2","x":63.1,"y":152},{"s":"2","x":79.4,"y":155},{"s":"2","x":100,"y":154},
{"s":"2","x":126,"y":150},{"s":"2","x":158,"y":143},{"s":"2","x":200,"y":134},{"s":"2","x":251,"y":122},{"s":"2","x":316,"y":109},{"s":"2","x":398,"y":97},{"s":"2","x":501,"y":85},{"s":"2","x":631,"y":74},{"s":"2","x":794,"y":66},{"s":"2","x":1000,"y":58},
{"s":"3","x":0.0126,"y":44},{"s":"3","x":0.0158,"y":46},{"s":"3","x":0.02,"y":49},{"s":"3","x":0.0251,"y":50},{"s":"3","x":0.0316,"y":51},{"s":"3","x":0.0398,"y":52},{"s":"3","x":0.0501,"y":52},{"s":"3","x":0.0631,"y":52},{"s":"3","x":0.0794,"y":52},{"s":"3","x":0.1,"y":52},
{"s":"3","x":0.126,"y":52},{"s":"3","x":0.158,"y":52},{"s":"3","x":0.2,"y":52},{"s":"3","x":0.251,"y":52},{"s":"3","x":0.316,"y":52},{"s":"3","x":0.398,"y":52},{"s":"3","x":0.501,"y":52},{"s":"3","x":0.631,"y":52},{"s":"3","x":0.794,"y":52},{"s":"3","x":1,"y":52},
{"s":"3","x":1.26,"y":53},{"s":"3","x":1.58,"y":54},{"s":"3","x":2,"y":56},{"s":"3","x":2.51,"y":58},{"s":"3","x":3.16,"y":61},{"s":"3","x":3.98,"y":64},{"s":"3","x":5.01,"y":69},{"s":"3","x":6.31,"y":74},{"s":"3","x":7.94,"y":80},{"s":"3","x":10,"y":87},
{"s":"3","x":12.6,"y":94},{"s":"3","x":15.8,"y":101},{"s":"3","x":20,"y":108},{"s":"3","x":25.1,"y":115},{"s":"3","x":31.6,"y":122},{"s":"3","x":39.8,"y":128},{"s":"3","x":50.1,"y":133},{"s":"3","x":63.1,"y":137},{"s":"3","x":79.4,"y":140},{"s":"3","x":100,"y":139},
{"s":"3","x":126,"y":135},{"s":"3","x":158,"y":129},{"s":"3","x":200,"y":120},{"s":"3","x":251,"y":108},{"s":"3","x":316,"y":96},{"s":"3","x":398,"y":84},{"s":"3","x":501,"y":73},{"s":"3","x":631,"y":63},{"s":"3","x":794,"y":55},{"s":"3","x":1000,"y":47},
{"s":"4","x":0.0126,"y":71},{"s":"4","x":0.0158,"y":90},{"s":"4","x":0.02,"y":100},{"s":"4","x":0.0251,"y":104},{"s":"4","x":0.0316,"y":106},{"s":"4","x":0.0398,"y":107},{"s":"4","x":0.0501,"y":108},{"s":"4","x":0.0631,"y":108},{"s":"4","x":0.0794,"y":109},{"s":"4","x":0.1,"y":108},
{"s":"4","x":0.126,"y":108},{"s":"4","x":0.158,"y":108},{"s":"4","x":0.2,"y":109},{"s":"4","x":0.251,"y":108},{"s":"4","x":0.316,"y":108},{"s":"4","x":0.398,"y":108},{"s":"4","x":0.501,"y":108},{"s":"4","x":0.631,"y":108},{"s":"4","x":0.794,"y":108},{"s":"4","x":1,"y":108},
{"s":"4","x":1.26,"y":109},{"s":"4","x":1.58,"y":110},{"s":"4","x":2,"y":111},{"s":"4","x":2.51,"y":114},{"s":"4","x":3.16,"y":117},{"s":"4","x":3.98,"y":120},{"s":"4","x":5.01,"y":125},{"s":"4","x":6.31,"y":130},{"s":"4","x":7.94,"y":136},{"s":"4","x":10,"y":143},
{"s":"4","x":12.6,"y":150},{"s":"4","x":15.8,"y":157},{"s":"4","x":20,"y":164},{"s":"4","x":25.1,"y":171},{"s":"4","x":31.6,"y":177},{"s":"4","x":39.8,"y":183},{"s":"4","x":50.1,"y":188},{"s":"4","x":63.1,"y":192},{"s":"4","x":79.4,"y":195},{"s":"4","x":100,"y":194},
{"s":"4","x":126,"y":189},{"s":"4","x":158,"y":180},{"s":"4","x":200,"y":168},{"s":"4","x":251,"y":153},{"s":"4","x":316,"y":136},{"s":"4","x":398,"y":120},{"s":"4","x":501,"y":105},{"s":"4","x":631,"y":91},{"s":"4","x":794,"y":80},{"s":"4","x":1000,"y":70}
]
},
"vconcat":[
{"width":248,"height":176,
"title":{"text":"(a)","orient":"bottom","anchor":"start","frame":"group","dx":-65,"dy":-25,"fontSize":13,"fontWeight":"normal","font":"Liberation Serif","color":"black"},
"layer":[
{"data":{"name":"a1"},"mark":{"type":"point","filled":true,"size":28,"opacity":1,"clip":true},
"encoding":{
"x":{"field":"x","type":"quantitative","scale":{"type":"log","domain":[0.01,1000]},"axis":{"orient":"bottom","values":[0.01,0.1,1,10,100,1000],"labelExpr":"datum.value<0.05?'10⁻²':datum.value<0.5?'10⁻¹':datum.value<5?'10⁰':datum.value<50?'10¹':datum.value<500?'10²':'10³'","tickSize":-5,"labelPadding":10,"labelFlush":false,"title":"γ₀ [%]","titlePadding":1}},
"y":{"field":"y","type":"quantitative","scale":{"type":"log","domain":[10,10000]},"axis":{"orient":"left","values":[10,100,1000,10000],"labelExpr":"datum.value<50?'10¹':datum.value<500?'10²':datum.value<5000?'10³':'10⁴'","tickSize":-5,"labelPadding":11,"labelOffset":-3,"title":"G′₁, G″₁ [Pa]","titlePadding":3}},
"color":{"field":"s","type":"nominal","scale":{"domain":["r","o","g","c","k","B","b"],"range":["#ff1a1a","#e8850f","#2ab42a","#3bb1ee","#2f7ff7","#1030f0","#0000ff"]},
"legend":{"title":null,"orient":"top-right","values":["b","B"],"labelExpr":"datum.value=='b'?'1 wt% PEO':'0 PEO'","encode":{"symbols":{"update":{"fill":{"value":"#0000ff"},"stroke":{"value":"#0000ff"},"opacity":{"value":1}}}}}},
"shape":{"field":"s","type":"nominal","scale":{"domain":["r","o","g","c","k","B","b"],"range":["circle","circle","triangle-up","circle","circle","circle","triangle-up"]}}
}},
{"data":{"name":"a2"},"mark":{"type":"point","filled":false,"size":28,"strokeWidth":1.1,"opacity":1,"clip":true},
"encoding":{
"x":{"field":"x","type":"quantitative","axis":{"orient":"bottom","values":[0.02,0.03,0.04,0.05,0.06,0.07,0.08,0.09,0.2,0.3,0.4,0.5,0.6,0.7,0.8,0.9,2,3,4,5,6,7,8,9,20,30,40,50,60,70,80,90,200,300,400,500,600,700,800,900],"labels":false,"title":null,"tickSize":-2.5}},
"y":{"field":"y","type":"quantitative","axis":{"orient":"left","values":[20,30,40,50,60,70,80,90,200,300,400,500,600,700,800,900,2000,3000,4000,5000,6000,7000,8000,9000],"labels":false,"title":null,"tickSize":-2.5}},
"color":{"field":"s","type":"nominal"},
"shape":{"field":"s","type":"nominal"}
}},
{"data":{"name":"dash"},"mark":{"type":"line","color":"black","strokeDash":[4,3],"strokeWidth":1,"clip":true},
"encoding":{
"x":{"field":"x","type":"quantitative","axis":{"orient":"top","values":[0.01,0.1,1,10,100,1000],"labels":false,"title":null,"tickSize":-5}},
"y":{"field":"y","type":"quantitative","axis":{"orient":"right","values":[10,100,1000,10000],"labels":false,"title":null,"tickSize":-5}}
}},
{"data":{"name":"la"},"mark":{"type":"text","fontSize":13,"font":"Liberation Serif","fontStyle":"italic","color":"black"},
"encoding":{
"x":{"field":"x","type":"quantitative","axis":{"orient":"top","values":[0.02,0.03,0.04,0.05,0.06,0.07,0.08,0.09,0.2,0.3,0.4,0.5,0.6,0.7,0.8,0.9,2,3,4,5,6,7,8,9,20,30,40,50,60,70,80,90,200,300,400,500,600,700,800,900],"labels":false,"title":null,"tickSize":-2.5}},
"y":{"field":"y","type":"quantitative","axis":{"orient":"right","values":[20,30,40,50,60,70,80,90,200,300,400,500,600,700,800,900,2000,3000,4000,5000,6000,7000,8000,9000],"labels":false,"title":null,"tickSize":-2.5}},
"text":{"field":"t"}
}}
],
"resolve":{"axis":{"x":"independent","y":"independent"}}
},
{"width":248,"height":176,
"title":{"text":"(b)","orient":"bottom","anchor":"start","frame":"group","dx":-65,"dy":-25,"fontSize":13,"fontWeight":"normal","font":"Liberation Serif","color":"black"},
"layer":[
{"data":{"name":"b1"},"mark":{"type":"point","filled":true,"size":28,"opacity":1,"clip":true,"color":"#e6861a"},
"encoding":{
"x":{"field":"x","type":"quantitative","scale":{"type":"log","domain":[0.01,1000]},"axis":{"orient":"bottom","values":[0.01,0.1,1,10,100,1000],"labelExpr":"datum.value<0.05?'10⁻²':datum.value<0.5?'10⁻¹':datum.value<5?'10⁰':datum.value<50?'10¹':datum.value<500?'10²':'10³'","tickSize":-5,"labelPadding":10,"labelFlush":false,"title":"γ₀ [%]","titlePadding":1}},
"y":{"field":"y","type":"quantitative","scale":{"type":"log","domain":[10,10000]},"axis":{"orient":"left","values":[10,100,1000,10000],"labelExpr":"datum.value<50?'10¹':datum.value<500?'10²':datum.value<5000?'10³':'10⁴'","tickSize":-5,"labelPadding":11,"labelOffset":-3,"title":"G′₁, G″₁ [Pa]","titlePadding":3}},
"shape":{"field":"s","type":"nominal","scale":{"domain":["0","1","2","3","4"],"range":["circle","square","diamond","M0,-1L0.289,-0.5L0.866,-0.5L0.577,0L0.866,0.5L0.289,0.5L0,1L-0.289,0.5L-0.866,0.5L-0.577,0L-0.866,-0.5L-0.289,-0.5Z","triangle-up"]},
"legend":{"title":null,"orient":"top-right","labelExpr":"datum.value=='0'?'0 wt% PEO':datum.value=='1'?'0.01':datum.value=='2'?'0.10':datum.value=='3'?'0.50':'1.00'","encode":{"symbols":{"update":{"fill":{"value":"#e6861a"},"stroke":{"value":"#e6861a"},"opacity":{"value":1}}}}}}
}},
{"data":{"name":"b2"},"mark":{"type":"point","filled":false,"size":28,"strokeWidth":1.1,"opacity":1,"clip":true,"color":"#e6861a"},
"encoding":{
"x":{"field":"x","type":"quantitative","axis":{"orient":"bottom","values":[0.02,0.03,0.04,0.05,0.06,0.07,0.08,0.09,0.2,0.3,0.4,0.5,0.6,0.7,0.8,0.9,2,3,4,5,6,7,8,9,20,30,40,50,60,70,80,90,200,300,400,500,600,700,800,900],"labels":false,"title":null,"tickSize":-2.5}},
"y":{"field":"y","type":"quantitative","axis":{"orient":"left","values":[20,30,40,50,60,70,80,90,200,300,400,500,600,700,800,900,2000,3000,4000,5000,6000,7000,8000,9000],"labels":false,"title":null,"tickSize":-2.5}},
"shape":{"field":"s","type":"nominal"}
}},
{"data":{"name":"dash"},"mark":{"type":"line","color":"black","strokeDash":[4,3],"strokeWidth":1,"clip":true},
"encoding":{
"x":{"field":"x","type":"quantitative","axis":{"orient":"top","values":[0.01,0.1,1,10,100,1000],"labels":false,"title":null,"tickSize":-5}},
"y":{"field":"y","type":"quantitative","axis":{"orient":"right","values":[10,100,1000,10000],"labels":false,"title":null,"tickSize":-5}}
}},
{"data":{"name":"lb"},"mark":{"type":"text","fontSize":13,"font":"Liberation Serif","fontStyle":"italic","color":"black"},
"encoding":{
"x":{"field":"x","type":"quantitative","axis":{"orient":"top","values":[0.02,0.03,0.04,0.05,0.06,0.07,0.08,0.09,0.2,0.3,0.4,0.5,0.6,0.7,0.8,0.9,2,3,4,5,6,7,8,9,20,30,40,50,60,70,80,90,200,300,400,500,600,700,800,900],"labels":false,"title":null,"tickSize":-2.5}},
"y":{"field":"y","type":"quantitative","axis":{"orient":"right","values":[20,30,40,50,60,70,80,90,200,300,400,500,600,700,800,900,2000,3000,4000,5000,6000,7000,8000,9000],"labels":false,"title":null,"tickSize":-2.5}},
"text":{"field":"t"}
}}
],
"resolve":{"axis":{"x":"independent","y":"independent"}}
}
],
"spacing":61,
"bounds":"flush",
"resolve":{"scale":{"color":"independent","shape":"independent"},"legend":{"color":"independent","shape":"independent"}}
}
